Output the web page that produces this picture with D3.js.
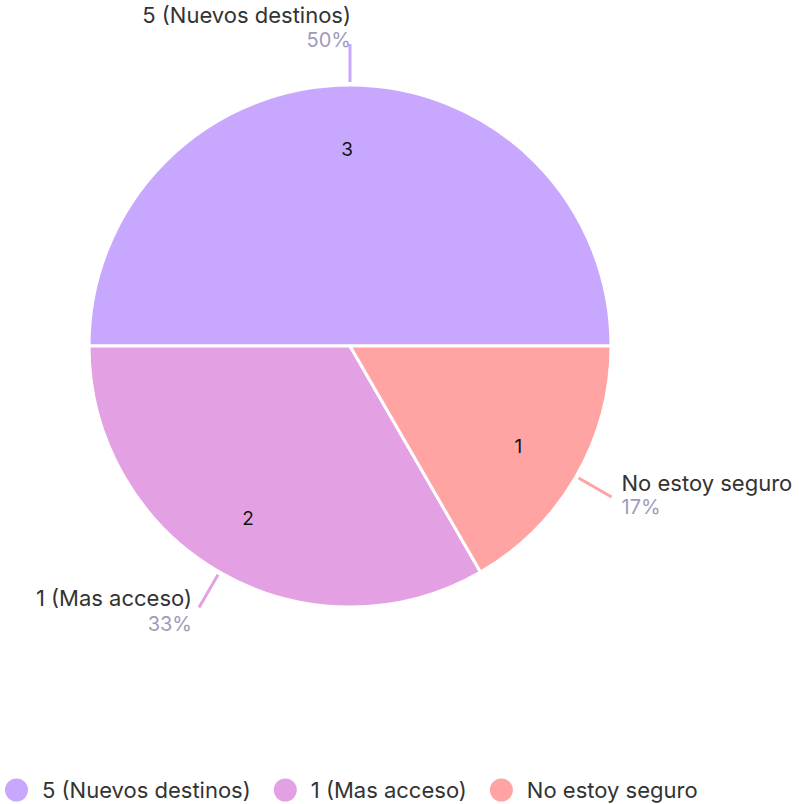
<!DOCTYPE html>
<html>
<head>
<meta charset="utf-8">
<script src="https://cdn.jsdelivr.net/npm/d3@7"></script>
<style>
  html, body { margin: 0; padding: 0; background: #fff; }
  svg { display: block; font-family: "Inter", "Open Sans", sans-serif; }
</style>
</head>
<body>
<svg id="chart" width="799" height="804"></svg>
<script>
const categories = ["5 (Nuevos destinos)", "1 (Mas acceso)", "No estoy seguro"];
const counts = [3, 2, 1];
const percentLabels = ["50%", "33%", "17%"];
const colors = ["#C8A8FF", "#E3A0E3", "#FFA3A3"];

const W = 799, H = 804;
const cx = 350, cy = 346, R = 261;
const svg = d3.select("#chart");

const data = categories.map((c, i) => ({ name: c, value: counts[i], pct: percentLabels[i], color: colors[i] }));

const pie = d3.pie().value(d => d.value).sort(null)
  .startAngle(Math.PI / 2).endAngle(Math.PI / 2 - 2 * Math.PI);
const arcs = pie(data);
const arc = d3.arc().innerRadius(0).outerRadius(R);

const g = svg.append("g").attr("transform", `translate(${cx},${cy})`);

g.selectAll("path.slice").data(arcs).enter().append("path")
  .attr("class", "slice")
  .attr("d", arc)
  .attr("fill", d => d.data.color)
  .attr("stroke", "#fff")
  .attr("stroke-width", 3)
  .attr("stroke-linejoin", "round");

// value labels
const labelArc = d3.arc().innerRadius(198).outerRadius(198);
g.selectAll("text.val").data(arcs).enter().append("text")
  .attr("class", "val")
  .attr("text-anchor", "middle")
  .attr("x", d => labelArc.centroid(d)[0] - 3)
  .attr("y", d => labelArc.centroid(d)[1] + 8)
  .attr("font-size", 19)
  .attr("fill", "#111")
  .text(d => d.data.value);

// leader lines and outside labels
arcs.forEach(d => {
  const a = (d.startAngle + d.endAngle) / 2;
  const sx = Math.sin(a), sy = -Math.cos(a);
  const p0 = [sx * (R + 3), sy * (R + 3)];
  const p1 = [sx * (R + 41), sy * (R + 41)];
  g.append("line")
    .attr("x1", p0[0]).attr("y1", p0[1])
    .attr("x2", p1[0]).attr("y2", p1[1])
    .attr("stroke", d.data.color).attr("stroke-width", 3);
  let anchor, tx, ny, py;
  if (Math.abs(sx) < 0.3) {
    anchor = "end"; tx = p1[0] + 1; ny = p1[1] - 21; py = p1[1] + 3;
  } else if (sx < 0) {
    anchor = "end"; tx = p1[0] - 7; ny = p1[1] - 2; py = p1[1] + 23;
  } else {
    anchor = "start"; tx = p1[0] + 10; ny = p1[1] - 6; py = p1[1] + 17;
  }
  g.append("text").attr("x", tx).attr("y", ny)
    .attr("text-anchor", anchor).attr("font-size", 22).attr("fill", "#333")
    .text(d.data.name);
  g.append("text").attr("x", tx).attr("y", py)
    .attr("text-anchor", anchor).attr("font-size", 20).attr("fill", "#9E9BBB")
    .text(d.data.pct);
});

// legend
const legend = svg.append("g");
let lx = 5;
data.forEach(d => {
  const item = legend.append("g");
  item.append("circle").attr("cx", lx + 11.5).attr("cy", 790).attr("r", 11.5).attr("fill", d.color);
  const t = item.append("text").attr("x", lx + 37).attr("y", 798)
    .attr("font-size", 22).attr("fill", "#333").text(d.name);
  const w = t.node().getComputedTextLength();
  lx = lx + 37 + w + 23;
});
</script>
</body>
</html>
